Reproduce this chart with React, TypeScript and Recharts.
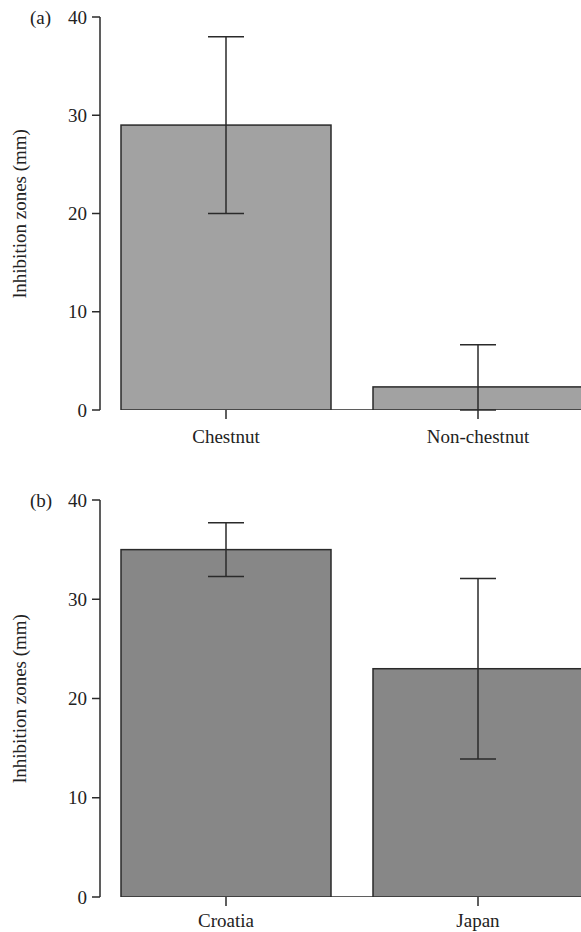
import { BarChart, Bar, XAxis, YAxis, ErrorBar } from 'recharts';

const SERIF = "'Liberation Serif', 'DejaVu Serif', serif";
const INK = '#2a2a2a';

const CATS_A = ['Chestnut', 'Non-chestnut'];
const MEANS_A = [29, 2.35];
// [below, above]; the non-chestnut bar's lower whisker is cut at zero
const ERR_A = [[9, 9], [2.35, 4.3]];

const CATS_B = ['Croatia', 'Japan'];
const MEANS_B = [35, 23];
const ERR_B = [[2.7, 2.7], [9.1, 9.1]];

const Y_TICKS = [0, 10, 20, 30, 40];

function rows(cats: string[], means: number[], errs: number[][]) {
  return cats.map((c, i) => ({ name: c, value: means[i], err: errs[i] }));
}

// bar with a dark outline; also carries the baseline across to the next bar
function OutlinedBar(props: any) {
  const { x, y, width, height, fill } = props;
  if (width == null || height == null) return null;
  return (
    <g>
      <line x1={x} x2={x + width + 60} y1={y + height} y2={y + height} stroke={INK} strokeWidth={1.5} />
      <rect x={x} y={y} width={width} height={height} fill={fill} stroke={INK} strokeWidth={1.5} />
    </g>
  );
}

function Panel({ tag, data, fill, height, top, plotH, tickMargin }: {
  tag: string; data: any[]; fill: string; height: number; top: number; plotH: number; tickMargin: number;
}) {
  return (
    <BarChart width={604} height={height} data={data} margin={{ top, right: 0, bottom: 0, left: 0 }}>
      <XAxis
        dataKey="name"
        interval={0}
        axisLine={false}
        tickLine={{ stroke: INK, strokeWidth: 1.5 }}
        tickSize={9}
        tickMargin={tickMargin}
        height={height - top - plotH}
        tick={{ fill: '#222', fontSize: 19, fontFamily: SERIF }}
      />
      <YAxis
        type="number"
        domain={[0, 40]}
        ticks={Y_TICKS}
        allowDataOverflow
        width={100}
        axisLine={{ stroke: INK, strokeWidth: 1.5 }}
        tickLine={{ stroke: INK, strokeWidth: 1.5 }}
        tickSize={8}
        tickMargin={5}
        tick={{ fill: '#222', fontSize: 19, fontFamily: SERIF }}
        label={({ viewBox }: any) => {
          const cy = viewBox.y + viewBox.height / 2;
          return (
            <g fontFamily={SERIF} fill="#222">
              <text x={30} y={viewBox.y} dominantBaseline="central" fontSize={19}>{tag}</text>
              <text
                x={19}
                y={cy}
                transform={`rotate(-90, 19, ${cy})`}
                textAnchor="middle"
                dominantBaseline="central"
                fontSize={19}
              >
                lnhibition zones (mm)
              </text>
            </g>
          );
        }}
      />
      <Bar dataKey="value" fill={fill} barSize={210} isAnimationActive={false} shape={OutlinedBar}>
        <ErrorBar dataKey="err" width={18} stroke={INK} strokeWidth={1.5} direction="y" />
      </Bar>
    </BarChart>
  );
}

export default function App() {
  return (
    <div style={{ position: 'absolute', left: 0, top: 0, width: 581, height: 932, overflow: 'hidden', background: '#fff' }}>
      <Panel tag="(a)" data={rows(CATS_A, MEANS_A, ERR_A)} fill="#a2a2a2" height={460} top={17} plotH={393} tickMargin={11} />
      <Panel tag="(b)" data={rows(CATS_B, MEANS_B, ERR_B)} fill="#878787" height={472} top={40} plotH={397} tickMargin={8} />
    </div>
  );
}
